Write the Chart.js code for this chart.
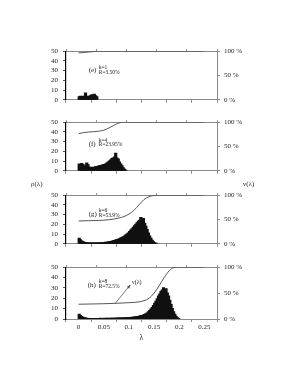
<!DOCTYPE html>
<html>
<head>
<meta charset="utf-8">
<script src="https://cdn.jsdelivr.net/npm/chart.js@4.4.1/dist/chart.umd.min.js"></script>
<style>
  body { margin:0; background:#fff; width:286px; height:373px; position:relative; overflow:hidden; font-family:"Liberation Serif", serif; }
  .panel { position:absolute; left:40px; width:220px; }
  .eje { position:absolute; font-size:7px; color:#222; line-height:8px; }
</style>
</head>
<body>
<div class="panel" style="top:42px;height:67px;"><canvas id="c0"></canvas></div>
<div class="panel" style="top:113px;height:67px;"><canvas id="c1"></canvas></div>
<div class="panel" style="top:186px;height:67px;"><canvas id="c2"></canvas></div>
<div class="panel" style="top:258px;height:85px;"><canvas id="c3"></canvas></div>
<div class="eje" style="left:31px;top:180px;">ρ(λ)</div>
<div class="eje" style="left:243px;top:180px;">ν(λ)</div>
<script>
// ── Datos (histogramas con bins de 0.0025 en λ) ──
const ANCHO_BIN = 0.0025;

const histE = [3,3.5,3,3.5,3,7,3.5,3,3.5,4,5,3.5,5.5,4,3];
const histF = [7,6,7.5,6.5,4,5,8,6,3.5,3,3.5,3,3.5,4,4,4.5,5,5,5.5,6,
               6.5,7,8,9,10,11,12.5,13,14,18,13,12,9,7,5,3,1.5,0.5];
const histG = [5.5,4,2.8,2,1.4,1,0.9,0.8,0.7,0.8,0.6,0.7,0.8,0.7,0.8,0.9,0.8,1,1,1.1,
               1.2,1.4,1.5,1.8,2,2.3,2.6,3,3.3,3.7,4.2,4.6,5.2,5.8,6.5,7.2,8,9,10,11,
               12.5,14,15.5,17,18.5,20,21.5,23,24,27,23.5,26,21,18,14.5,11,8,5.5,3.5,2,
               1,0.3];
const histH = [4.5,3.2,2.2,1.5,1,0.8,0.6,0.5,0.5,0.4,
               0.5,0.4,0.5,0.5,0.4,0.5,0.5,0.6,0.5,0.5,
               0.6,0.5,0.6,0.6,0.5,0.6,0.7,0.6,0.7,0.7,
               0.8,0.7,0.8,0.8,0.9,0.9,1,1,1.1,1.2,
               1.3,1.4,1.5,1.6,1.8,2,2.2,2.4,2.7,3,
               3.4,3.8,4.3,5,5.8,6.8,8,9.5,11,13,
               15,17,19.5,22,24,26.5,28,30,27,29,
               25,22,18,14,10,7,4.5,2.5,1.2,0.4];

// ── Curvas ν(λ) en % ──
const lamE = [0,0.01,0.02,0.03,0.04,0.25];
const nuE  = [96.5,97.3,98.2,99.3,100,100];
const lamF = [0,0.01,0.02,0.03,0.04,0.05,0.06,0.07,0.08,0.09,0.25];
const nuF  = [76.5,78.5,79.8,80.5,81.5,83.5,88,93.5,98.5,100,100];
const lamG = [0,0.02,0.04,0.06,0.08,0.09,0.1,0.11,0.12,0.13,0.14,0.15,0.16,0.25];
const nuG  = [47,47.5,48,49.5,53,56,61,69,80,91,97,99.5,100,100];
const lamH = [0,0.05,0.1,0.12,0.13,0.14,0.15,0.16,0.17,0.18,0.19,0.2,0.25];
const nuH  = [28.5,29.5,31.5,33,35.5,40,50,64,80,93,99.5,100,100];

const ticksLambda = [0,0.05,0.1,0.15,0.2,0.25];
const ticksRho = [0,10,20,30,40,50];
const ticksNu = [0,50,100];

// ── Textos de cada panel ──
const textosE = [['(e)',0.02,30,7],['k=1',0.04,33,5.5],['R=3.50%',0.04,28.5,5.5]];
const textosF = [['(f)',0.02,27,7],['k=4',0.04,31,5.5],['R=23.95%',0.04,27,5.5]];
const textosG = [['(g)',0.02,31,7],['k=6',0.04,34,5.5],['R=53.9%',0.04,29.5,5.5]];
const textosH = [['(h)',0.018,33,7],['k=8',0.04,36,5.5],['R=72.5%',0.04,31.5,5.5]];

const GRIS = '#8a8a8a';
const FUENTE = '"Liberation Serif", serif';

function pluginTextos(textos, flecha) {
  return {
    id: 'textos',
    afterDatasetsDraw(chart) {
      const { ctx, scales: { x, y, y2 } } = chart;
      ctx.save();
      ctx.fillStyle = '#222';
      ctx.textBaseline = 'middle';
      textos.forEach(([t, lam, val, tam]) => {
        ctx.font = `${tam}px ${FUENTE}`;
        ctx.fillText(t, x.getPixelForValue(lam), y.getPixelForValue(val));
      });
      if (flecha) {
        const x0 = x.getPixelForValue(flecha.desde[0]), y0 = y2.getPixelForValue(flecha.desde[1]);
        const x1 = x.getPixelForValue(flecha.hasta[0]), y1 = y2.getPixelForValue(flecha.hasta[1]);
        ctx.strokeStyle = '#555'; ctx.lineWidth = 0.8;
        ctx.beginPath(); ctx.moveTo(x0, y0); ctx.lineTo(x1, y1); ctx.stroke();
        const ang = Math.atan2(y1 - y0, x1 - x0);
        ctx.fillStyle = '#555';
        ctx.beginPath();
        ctx.moveTo(x1, y1);
        ctx.lineTo(x1 - 4 * Math.cos(ang - 0.4), y1 - 4 * Math.sin(ang - 0.4));
        ctx.lineTo(x1 - 4 * Math.cos(ang + 0.4), y1 - 4 * Math.sin(ang + 0.4));
        ctx.closePath(); ctx.fill();
        ctx.fillStyle = '#222';
        ctx.font = `6px ${FUENTE}`;
        ctx.fillText(flecha.texto, x.getPixelForValue(flecha.pos[0]), y2.getPixelForValue(flecha.pos[1]));
      }
      ctx.restore();
    }
  };
}

function crearPanel(id, hist, lam, nu, textos, ultimo, flecha) {
  const barras = hist.map((v, i) => ({ x: ANCHO_BIN * (i + 0.5), y: v }));
  const curva = lam.map((l, i) => ({ x: l, y: nu[i] }));
  return new Chart(document.getElementById(id), {
    data: {
      datasets: [
        { type: 'line', data: curva, yAxisID: 'y2', borderColor: '#444', borderWidth: 0.9,
          pointRadius: 0, cubicInterpolationMode: 'monotone', order: 0 },
        { type: 'bar', data: barras, yAxisID: 'y', backgroundColor: '#111', borderWidth: 0,
          barPercentage: 1.6, categoryPercentage: 1, inflateAmount: 0.6, order: 1 },
      ]
    },
    options: {
      responsive: true, maintainAspectRatio: false, animation: false,
      layout: { padding: { top: 5, bottom: ultimo ? 0 : 2, left: 0, right: 0 } },
      plugins: { legend: { display: false }, tooltip: { enabled: false } },
      scales: {
        x: {
          type: 'linear', min: 0, max: 0.25, position: 'bottom',
          afterBuildTicks: s => { s.ticks = ticksLambda.map(v => ({ value: v })); },
          afterFit: s => { s.height = ultimo ? 24 : 4; },
          ticks: { display: ultimo, autoSkip: false, color: '#222', font: { family: FUENTE, size: 7 }, padding: 1,
                   maxRotation: 0, callback: v => String(+v.toFixed(2)) },
          grid: { drawOnChartArea: false, tickLength: 3, color: GRIS },
          border: { color: GRIS },
          title: { display: ultimo, text: 'λ', color: '#222', font: { family: FUENTE, size: 8 }, padding: 0 }
        },
        x2: {
          type: 'linear', min: 0, max: 0.25, position: 'top',
          afterBuildTicks: s => { s.ticks = ticksLambda.map(v => ({ value: v })); },
          afterFit: s => { s.height = 3; },
          ticks: { display: false },
          grid: { drawOnChartArea: false, tickLength: 2, color: GRIS },
          border: { color: GRIS }
        },
        y: {
          min: 0, max: 50, position: 'left',
          afterBuildTicks: s => { s.ticks = ticksRho.map(v => ({ value: v })); },
          afterFit: s => { s.width = 26; },
          ticks: { autoSkip: false, color: '#222', font: { family: FUENTE, size: 7 }, padding: 5 },
          grid: { drawOnChartArea: false, tickLength: 3, color: '#555' },
          border: { color: '#000', width: 1.2 }
        },
        y2: {
          min: 0, max: 100, position: 'right',
          afterBuildTicks: s => { s.ticks = ticksNu.map(v => ({ value: v })); },
          afterFit: s => { s.width = 43; },
          ticks: { autoSkip: false, color: '#222', font: { family: FUENTE, size: 7 }, padding: 4,
                   callback: v => v + ' %' },
          grid: { drawOnChartArea: false, tickLength: 3, color: GRIS },
          border: { color: GRIS }
        }
      }
    },
    plugins: [pluginTextos(textos, flecha)]
  });
}

crearPanel('c0', histE, lamE, nuE, textosE, false);
crearPanel('c1', histF, lamF, nuF, textosF, false);
crearPanel('c2', histG, lamG, nuG, textosG, false);
crearPanel('c3', histH, lamH, nuH, textosH, true,
  { desde: [0.073, 30.5], hasta: [0.103, 66], pos: [0.106, 70], texto: 'ν(λ)' });
</script>
</body>
</html>
